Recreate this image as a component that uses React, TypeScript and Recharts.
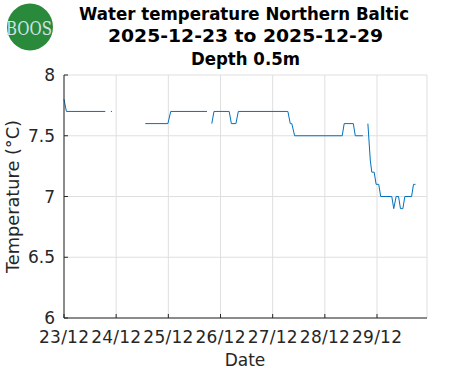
import { LineChart, Line, XAxis, YAxis, CartesianGrid } from "recharts";

// hours since 2025-12-23 00:00
const hours = [
  0, 1.1, 19.0, 20.4, 21.6, 22.1, 29, 37.4, 47.8, 49.1, 65.8, 67, 68.0, 69.0, 76.0, 77.0, 79.1, 80.2,
  103.0, 104.1, 104.8, 106.1, 128.0, 128.9, 133.1, 134.0, 137.5, 138.6, 139.8, 140.9, 141.6, 142.7,
  143.6, 144.8, 145.7, 150.8, 151.7, 152.8, 153.9, 154.8, 155.9, 156.8, 159.9, 160.8, 161.7,
];
const temps = [
  7.8, 7.7, 7.7, null, 7.7, 7.7, null, 7.6, 7.6, 7.7, 7.7, null, 7.6, 7.7, 7.7, 7.6, 7.6, 7.7,
  7.7, 7.6, 7.6, 7.5, 7.5, 7.6, 7.6, 7.5, 7.5, null, 7.6, 7.3, 7.2, 7.2,
  7.1, 7.1, 7.0, 7.0, 6.9, 7.0, 7.0, 6.9, 6.9, 7.0, 7.0, 7.1, 7.1,
];
const xTicks = [0, 24, 48, 72, 96, 120, 144];
const xLabels = ["23/12", "24/12", "25/12", "26/12", "27/12", "28/12", "29/12"];
const yTicks = [6, 6.5, 7, 7.5, 8];
const yLabels = ["6", "6.5", "7", "7.5", "8"];

const data = hours.map((h, i) => ({ h, t: temps[i] }));

const AXIS = "#262626";
const TICK_LEN = 4;
const FONT = "DejaVu Sans";

function BottomTick({ x, y, payload }: any) {
  const i = xTicks.indexOf(payload.value);
  return (
    <g>
      <line x1={x} x2={x} y1={y} y2={y - TICK_LEN} stroke={AXIS} />
      <text
        x={x}
        y={y + 25}
        textAnchor="middle"
        fill={AXIS}
        fontSize={17}
        fontFamily={FONT}
        textLength={50}
        lengthAdjust="spacing"
      >
        {xLabels[i]}
      </text>
    </g>
  );
}

function TopTick({ x, y }: any) {
  return <line x1={x} x2={x} y1={y} y2={y + TICK_LEN} stroke={AXIS} />;
}

function LeftTick({ x, y, payload }: any) {
  const i = yTicks.indexOf(payload.value);
  return (
    <g>
      <line x1={x} x2={x + TICK_LEN} y1={y} y2={y} stroke={AXIS} />
      <text x={x - 9} y={y + 6} textAnchor="end" fill={AXIS} fontSize={17} fontFamily={FONT}>
        {yLabels[i]}
      </text>
    </g>
  );
}

function RightTick({ x, y }: any) {
  return <line x1={x - TICK_LEN} x2={x} y1={y} y2={y} stroke={AXIS} />;
}

export default function App() {
  return (
    <div
      style={{
        position: "absolute",
        left: 0,
        top: 0,
        width: 471,
        height: 371,
        background: "#fff",
        fontFamily: FONT,
      }}
    >
      <LineChart width={471} height={371} data={data} margin={{ top: 75, right: 44, bottom: 0, left: 0 }}>
        <CartesianGrid stroke="#dfdfdf" />
        <XAxis
          dataKey="h"
          type="number"
          domain={[0, 167]}
          ticks={xTicks}
          interval={0}
          height={53}
          tickSize={0}
          tickMargin={0}
          tick={<BottomTick />}
          axisLine={{ stroke: AXIS }}
        />
        <XAxis
          xAxisId="top"
          orientation="top"
          type="number"
          domain={[0, 167]}
          ticks={xTicks}
          interval={0}
          height={0}
          tickSize={0}
          tickMargin={0}
          tick={<TopTick />}
          axisLine={{ stroke: AXIS }}
        />
        <YAxis
          type="number"
          domain={[6, 8]}
          ticks={yTicks}
          interval={0}
          width={64}
          tickSize={0}
          tickMargin={0}
          tick={<LeftTick />}
          axisLine={{ stroke: AXIS }}
        />
        <YAxis
          yAxisId="right"
          orientation="right"
          type="number"
          domain={[6, 8]}
          ticks={yTicks}
          interval={0}
          width={0}
          tickSize={0}
          tickMargin={0}
          tick={<RightTick />}
          axisLine={{ stroke: AXIS }}
        />
        <Line
          dataKey="t"
          stroke="#0072BD"
          strokeWidth={1}
          dot={false}
          connectNulls={false}
          isAnimationActive={false}
        />
      </LineChart>
      <svg
        width={471}
        height={371}
        style={{ position: "absolute", left: 0, top: 0, pointerEvents: "none" }}
        fontFamily={FONT}
      >
        {/* logo */}
        <ellipse cx={30} cy={27} rx={23} ry={23.5} fill="#2a8a3c" />
        <text
          x={29}
          y={35}
          textAnchor="middle"
          fontFamily="DejaVu Serif"
          fontSize={18}
          fill="#cfe3ec"
          textLength={46}
          lengthAdjust="spacingAndGlyphs"
        >
          BOOS
        </text>
        {/* title */}
        <g fontWeight="bold" fontSize={17.5} fill="#000" textAnchor="middle">
          <text x={244} y={19.5} textLength={330} lengthAdjust="spacingAndGlyphs">
            Water temperature Northern Baltic
          </text>
          <text x={245.5} y={42} textLength={275} lengthAdjust="spacingAndGlyphs">
            2025-12-23 to 2025-12-29
          </text>
          <text x={245.5} y={65} textLength={109} lengthAdjust="spacingAndGlyphs">
            Depth 0.5m
          </text>
        </g>
        {/* axis titles */}
        <text x={245} y={366} textAnchor="middle" fontSize={17} fill={AXIS}>
          Date
        </text>
        <text
          transform="translate(19,196.5) rotate(-90)"
          textAnchor="middle"
          fontSize={17.5}
          fill={AXIS}
          textLength={153}
          lengthAdjust="spacingAndGlyphs"
        >
          Temperature (°C)
        </text>
      </svg>
    </div>
  );
}
